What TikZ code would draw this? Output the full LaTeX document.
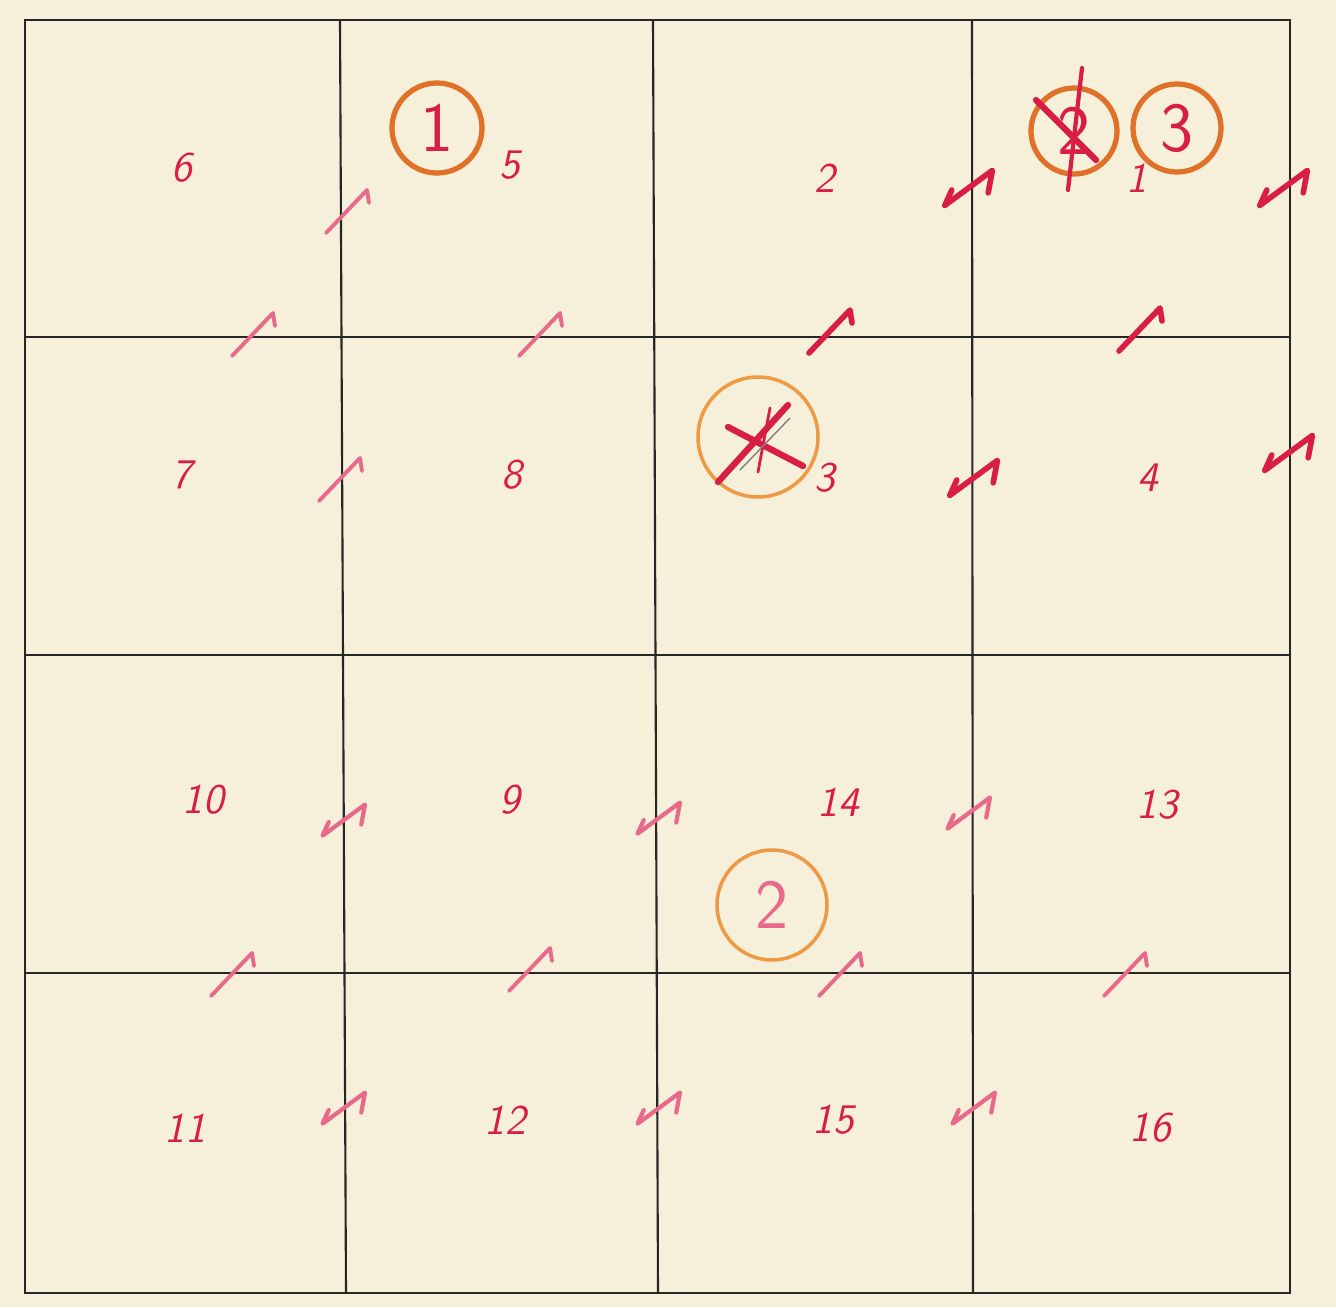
\documentclass[tikz,border=0pt]{standalone}
\usepackage{xcolor}
\usepackage{tikz}
\definecolor{paper}{HTML}{F6EFD9}
\definecolor{redink}{HTML}{D81E44}
\definecolor{pinkink}{HTML}{E8698A}
\definecolor{orangeink}{HTML}{DF7128}
\definecolor{lightorange}{HTML}{EE9A45}
\tikzset{
  gridline/.style={draw=black!85,line width=0.6pt},
  cellnum/.style={text=redink,font=\sffamily\itshape\fontsize{12}{14}\selectfont,inner sep=0pt},
  ringed/.style={circle,draw=orangeink,line width=1.5pt,text=redink,font=\sffamily\fontsize{20}{22}\selectfont,inner sep=0pt},
  ringedlight/.style={circle,draw=lightorange,line width=1pt,text=pinkink,font=\sffamily\fontsize{20}{22}\selectfont,inner sep=0pt},
  strike/.style={draw=redink,line width=1.8pt,line cap=round},
  chk/.pic={\draw[line cap=round,line join=round] (-0.21,0.21) -- (0.2,-0.22) -- (0.22,-0.09);},
  dchk/.pic={\draw[line cap=round,line join=round] (-0.13,0) -- (-0.18,0.11) -- (0.16,-0.14) -- (0.13,0.02);}
}
\begin{document}
\begin{tikzpicture}[x=1cm,y=-1cm]
\useasboundingbox[fill=paper] (0,0) rectangle (13.36,13.07);
% grid
\draw[gridline] (0.25,0.20) rectangle (12.90,12.93);
\draw[gridline] (3.40,0.20) -- (3.46,12.93);
\draw[gridline] (6.53,0.20) -- (6.58,12.93);
\draw[gridline] (9.72,0.20) -- (9.73,12.93);
\draw[gridline] (0.25,3.37) -- (12.90,3.37);
\draw[gridline] (0.25,6.55) -- (12.90,6.55);
\draw[gridline] (0.25,9.73) -- (12.90,9.73);
% cell numbers
\node[cellnum] (n6) at (1.82,1.68) {6};
\node[cellnum] (n5) at (5.10,1.65) {5};
\node[cellnum] (n2) at (8.25,1.78) {2};
\node[cellnum] (n1) at (11.37,1.78) {1};
\node[cellnum] (n7) at (1.82,4.75) {7};
\node[cellnum] (n8) at (5.12,4.75) {8};
\node[cellnum] (n3) at (8.25,4.78) {3};
\node[cellnum] (n4) at (11.48,4.78) {4};
\node[cellnum] (n10) at (2.03,8.00) {10};
\node[cellnum] (n9) at (5.10,8.00) {9};
\node[cellnum] (n14) at (8.38,8.02) {14};
\node[cellnum] (n13) at (11.57,8.05) {13};
\node[cellnum] (n11) at (1.85,11.28) {11};
\node[cellnum] (n12) at (5.05,11.20) {12};
\node[cellnum] (n15) at (8.33,11.20) {15};
\node[cellnum] (n16) at (11.50,11.28) {16};
% rings
\node[ringed,minimum size=0.9cm] (r1) at (4.37,1.28) {1};
\node[ringed,minimum size=0.86cm] (r2x) at (10.74,1.31) {2};
\node[ringed,minimum size=0.88cm] (r3) at (11.77,1.28) {3};
\node[ringedlight,minimum size=1.2cm] (rx) at (7.58,4.37) {};
\node[ringedlight,minimum size=1.1cm] (r2) at (7.72,9.05) {2};
% crossings
\draw[strike] ([xshift=-0.38cm,yshift=0.31cm]r2x.center) -- ([xshift=0.22cm,yshift=-0.29cm]r2x.center);
\draw[strike,line width=1.2pt] ([xshift=0.08cm,yshift=0.63cm]r2x.center) -- ([xshift=-0.06cm,yshift=-0.59cm]r2x.center);
\draw[strike] (7.18,4.82) -- (7.88,4.05);
\draw[strike] (7.28,4.27) -- (8.03,4.66);
\draw[strike,line width=0.8pt] (7.70,4.08) -- (7.58,4.72);
\draw[draw=black!50,line width=0.4pt] (7.40,4.70) -- (7.90,4.18);
% light ticks
\foreach \x/\y in {3.47/2.12,2.53/3.35,5.40/3.35,3.40/4.80,2.32/9.75,5.30/9.70,8.40/9.75,11.25/9.75}
  \pic[draw=pinkink,line width=1.1pt] at (\x,\y) {chk};
% dark ticks
\foreach \x/\y in {8.30/3.32,11.40/3.30}
  \pic[draw=redink,line width=1.6pt] at (\x,\y) {chk};
% double ticks
\foreach \x/\y in {9.70/1.90,12.85/1.90,9.75/4.80,12.90/4.55}
  \pic[draw=redink,line width=1.6pt,scale=1.4] at (\x,\y) {dchk};
\foreach \x/\y in {3.45/8.22,6.60/8.20,9.70/8.15,3.45/11.10,6.60/11.10,9.75/11.10}
  \pic[draw=pinkink,line width=1.2pt,scale=1.25] at (\x,\y) {dchk};
\end{tikzpicture}
\end{document}
